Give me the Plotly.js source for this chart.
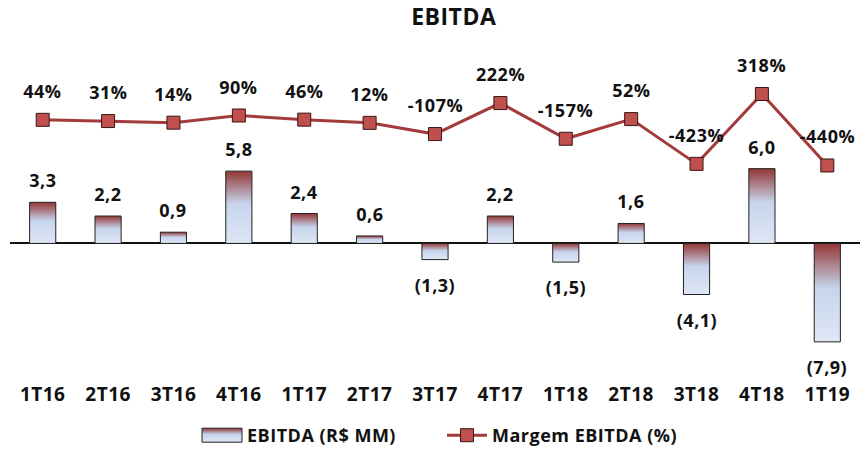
<!DOCTYPE html>
<html><head><meta charset="utf-8">
<script src="https://cdn.plot.ly/plotly-3.0.1.min.js"></script>
<style>html,body{margin:0;padding:0;background:#fff}#chart{width:861px;height:454px}
#chart svg text{letter-spacing:0.5px}</style>
</head><body><div id="chart"></div>
<script>
const quarters = ['1T16','2T16','3T16','4T16','1T17','2T17','3T17','4T17','1T18','2T18','3T18','4T18','1T19'];
const ebitda = [3.3, 2.2, 0.9, 5.8, 2.4, 0.6, -1.3, 2.2, -1.5, 1.6, -4.1, 6.0, -7.9];
const margem = [44, 31, 14, 90, 46, 12, -107, 222, -157, 52, -423, 318, -440];

const FONT = '"Open Sans", Lato, sans-serif';
function fmtBar(v){ const s = Math.abs(v).toFixed(1).replace('.', ','); return v < 0 ? '(' + s + ')' : s; }

const bars = {
  type: 'bar', name: '<b>EBITDA (R$ MM)</b>', x: quarters, y: ebitda, width: 0.4,
  marker: {color: '#c6d4ec', line: {color: '#222', width: 1}},
  hoverinfo: 'skip'
};
const line = {
  type: 'scatter', mode: 'lines+markers', name: '<b>Margem EBITDA (%)</b>', x: quarters, y: margem, yaxis: 'y2',
  line: {color: '#a33b3b', width: 3},
  marker: {symbol: 'square', size: 13, color: '#c0504d', line: {color: '#3a1515', width: 1}},
  hoverinfo: 'skip'
};

const annotations = [];
quarters.forEach((q, i) => {
  annotations.push({x: q, y: ebitda[i], xref: 'x', yref: 'y', text: '<b>' + fmtBar(ebitda[i]) + '</b>',
    showarrow: false, yanchor: 'middle', yshift: ebitda[i] >= 0 ? 22 : -25,
    font: {family: FONT, size: 18, color: '#111'}});
  annotations.push({x: q, y: margem[i], xref: 'x', yref: 'y2', text: '<b>' + margem[i] + '%</b>',
    showarrow: false, yanchor: 'middle', yshift: 29,
    font: {family: FONT, size: 18, color: '#111'}});
});

const layout = {
  width: 861, height: 454,
  margin: {l: 10, r: 1, t: 55, b: 76},
  paper_bgcolor: '#fff', plot_bgcolor: '#fff',
  font: {family: FONT, color: '#111'},
  title: {text: '<b>EBITDA</b>', x: 0.527, xanchor: 'center', y: 0.962, yanchor: 'middle', yref: 'container',
    font: {family: FONT, size: 23, color: '#111'}},
  xaxis: {type: 'category', range: [-0.5, 12.5], showgrid: false, showline: false, ticks: '',
    ticklabelstandoff: 4,
    tickfont: {family: FONT, size: 19, color: '#111'}, tickprefix: '<b>', ticksuffix: '</b>'},
  yaxis: {range: [-10.72, 15.12], showgrid: false, showticklabels: false, zeroline: true,
    zerolinecolor: '#111', zerolinewidth: 2, showline: false},
  yaxis2: {range: [-2683, 731.5], overlaying: 'y', side: 'right', showgrid: false, showticklabels: false,
    zeroline: false, showline: false},
  showlegend: true,
  legend: {orientation: 'h', x: 0.22, xanchor: 'left', y: -0.18, yanchor: 'middle',
    font: {family: FONT, size: 18, color: '#111'}, itemwidth: 40, traceorder: 'normal', entrywidth: 190},
  annotations: annotations
};

Plotly.newPlot('chart', [bars, line], layout, {displayModeBar: false, staticPlot: true}).then(gd => {
  const svg = gd.querySelector('svg.main-svg');
  const ns = 'http://www.w3.org/2000/svg';
  let defs = svg.querySelector('defs');
  if (!defs) { defs = document.createElementNS(ns, 'defs'); svg.insertBefore(defs, svg.firstChild); }
  const grad = document.createElementNS(ns, 'linearGradient');
  grad.setAttribute('id', 'barGrad');
  grad.setAttribute('x1', '0'); grad.setAttribute('y1', '0'); grad.setAttribute('x2', '0'); grad.setAttribute('y2', '1');
  [['0', '#943634'], ['0.45', '#c6d4ec'], ['1', '#dfe7f5']].forEach(([o, c]) => {
    const s = document.createElementNS(ns, 'stop');
    s.setAttribute('offset', o); s.setAttribute('stop-color', c);
    grad.appendChild(s);
  });
  defs.appendChild(grad);
  gd.querySelectorAll('.barlayer .point path').forEach(p => { p.style.fill = 'url(#barGrad)'; });
  const legendTraces = gd.querySelectorAll('.legend .traces');
  if (legendTraces.length) {
    legendTraces[0].querySelectorAll('.legendpoints path').forEach(p => {
      p.setAttribute('d', 'M20,7H-20V-7H20Z');
      p.style.fill = 'url(#barGrad)';
      p.style.stroke = '#222';
      p.style.strokeWidth = '1px';
    });
  }
});
</script>
</body></html>
